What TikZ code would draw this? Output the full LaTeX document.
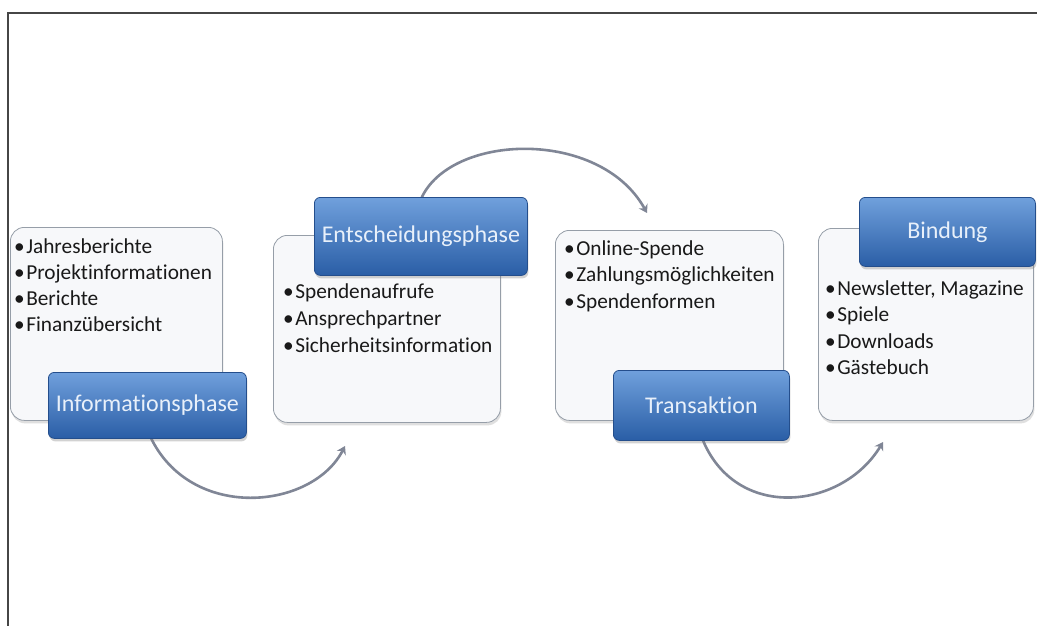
\documentclass[tikz,border=0pt]{standalone}
\usepackage{fontspec}
\setmainfont{Carlito}[Ligatures=NoCommon]
\usetikzlibrary{shadows,arrows.meta}
\definecolor{panelfill}{RGB}{247,248,250}
\definecolor{paneldraw}{RGB}{150,158,168}
\definecolor{bluetop}{RGB}{112,160,220}
\definecolor{bluemid}{RGB}{70,124,194}
\definecolor{bluebot}{RGB}{42,94,166}
\definecolor{bluedraw}{RGB}{36,78,140}
\definecolor{headtext}{RGB}{232,240,250}
\definecolor{itemtext}{RGB}{25,25,25}
\definecolor{arrowgray}{RGB}{128,134,150}
\definecolor{framegray}{RGB}{70,70,70}
\tikzset{
  panel/.style={draw=paneldraw, line width=0.8pt, fill=panelfill, rounded corners=14pt,
    anchor=north west, inner sep=0pt,
    drop shadow={opacity=0.25, shadow xshift=1pt, shadow yshift=-3pt}},
  phase/.style={draw=bluedraw, line width=0.8pt, rounded corners=6pt, anchor=north west,
    inner sep=0pt, top color=bluetop, middle color=bluemid, bottom color=bluebot,
    drop shadow={opacity=0.35, shadow xshift=1pt, shadow yshift=-3pt}},
  phaselabel/.style={text=headtext, font=\fontsize{24}{27}\selectfont, inner sep=0pt},
  item/.style={anchor=base west, inner sep=0pt, text=itemtext, font=\fontsize{21.3}{25}\selectfont},
  flow/.style={draw=arrowgray, line width=2.6pt, -{Stealth[length=8pt,width=10pt]}}
}
\begin{document}
\begin{tikzpicture}[x=1pt,y=-1pt]
\useasboundingbox (0,0) rectangle (1037,626);
\fill[white] (0,0) rectangle (1037,626);
% frame
\draw[framegray, line width=1.4pt] (8,626) -- (8,13) -- (1037,13);

% panels
\node[panel, minimum width=212pt, minimum height=193pt] (p1) at (10,227) {};
\node[panel, minimum width=227pt, minimum height=187pt] (p2) at (273,235) {};
\node[panel, minimum width=228pt, minimum height=190pt] (p3) at (555,230) {};
\node[panel, minimum width=215pt, minimum height=192pt] (p4) at (818,228) {};

% items
\foreach \t [count=\i] in {Jahresberichte,Projektinformationen,Berichte,Finanzübersicht}
  \node[item] (a\i) at (14,{253+26.3*(\i-1)}) {•\hspace{1.5pt}\t};
\foreach \t [count=\i] in {Spendenaufrufe,Ansprechpartner,Sicherheitsinformation}
  \node[item] (b\i) at (283,{298+27*(\i-1)}) {•\hspace{1.5pt}\t};
\foreach \t [count=\i] in {Online-Spende,Zahlungsmöglichkeiten,Spendenformen}
  \node[item] (c\i) at (564,{255+26.5*(\i-1)}) {•\hspace{1.5pt}\t};
\foreach \t [count=\i] in {{Newsletter, Magazine},Spiele,Downloads,Gästebuch}
  \node[item] (d\i) at (825,{295+26.5*(\i-1)}) {•\hspace{1.5pt}\t};

% arrows (behind phase boxes)
\coordinate (e1) at (345,446);
\coordinate (e2) at (647,213);
\coordinate (e3) at (883,442);
\coordinate (s1) at (150,436);
\coordinate (s2) at (421,199);
\coordinate (s3) at (702,438);
\draw[flow] (s1) .. controls (190,522) and (312,510) .. (e1);
\draw[flow] (s2) .. controls (450,133) and (600,128) .. (e2);
\draw[flow] (s3) .. controls (735,522) and (842,510) .. (e3);

% phase boxes
\node[phase, minimum width=198pt, minimum height=66pt] (h1) at (48,372) {};
\node[phaselabel] (t1) at (h1.center) {Informationsphase};
\node[phase, minimum width=213pt, minimum height=78pt] (h2) at (314,197) {};
\node[phaselabel] (t2) at (h2.center) {Entscheidungsphase};
\node[phase, minimum width=176pt, minimum height=70pt] (h3) at (613,370) {};
\node[phaselabel] (t3) at (h3.center) {Transaktion};
\node[phase, minimum width=176pt, minimum height=69pt] (h4) at (859,197) {};
\node[phaselabel] (t4) at (h4.center) {Bindung};
\end{tikzpicture}
\end{document}
